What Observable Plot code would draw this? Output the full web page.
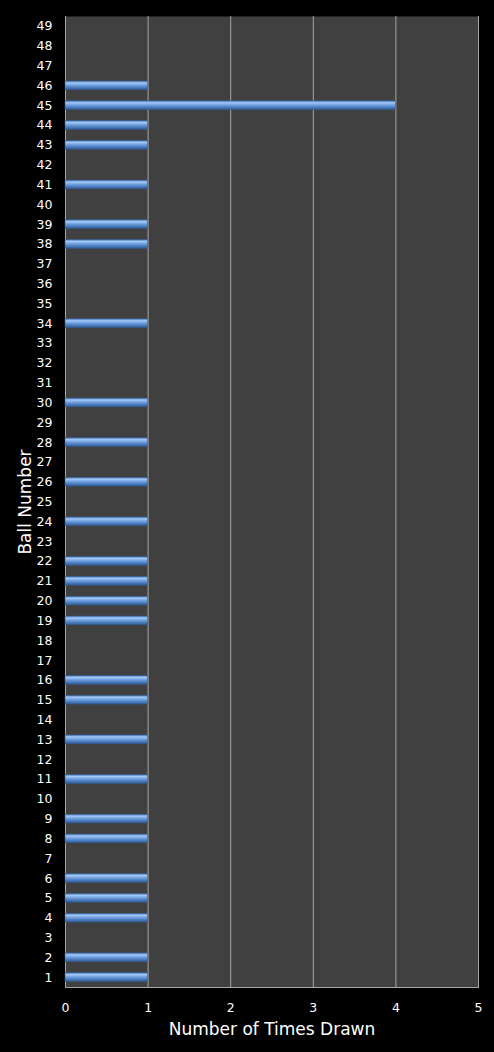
<!DOCTYPE html>
<html>
<head>
<meta charset="utf-8">
<script src="https://cdn.jsdelivr.net/npm/d3@7"></script>
<script src="https://cdn.jsdelivr.net/npm/@observablehq/plot@0.6"></script>
<style>
  html, body { margin: 0; padding: 0; background: #000; }
</style>
</head>
<body>
<div id="chart"></div>
<script>
const balls = [1,2,3,4,5,6,7,8,9,10,11,12,13,14,15,16,17,18,19,20,21,22,23,24,25,26,27,28,29,30,31,32,33,34,35,36,37,38,39,40,41,42,43,44,45,46,47,48,49];
const counts = [1,1,0,1,1,1,0,1,1,0,1,0,1,0,1,1,0,0,1,1,1,1,0,1,0,1,0,1,0,1,0,0,0,1,0,0,0,1,1,0,1,0,1,1,4,1,0,0,0];
const xTicks = [0,1,2,3,4,5];
const xTitle = "Number of Times Drawn";
const yTitle = "Ball Number";

const data = balls.map((b, i) => ({ball: b, count: counts[i]})).filter(d => d.count > 0);

const svg = Plot.plot({
  width: 494,
  height: 1052,
  marginLeft: 65,
  marginRight: 16,
  marginTop: 16,
  marginBottom: 65,
  style: {background: "#000", color: "#fff", fontFamily: "DejaVu Sans, Verdana, sans-serif", fontSize: "12.5px"},
  x: {domain: [0, 5], label: null},
  y: {domain: balls, reverse: true, paddingInner: 0.56, paddingOuter: 0.28, label: null},
  marks: [
    Plot.frame({fill: "#404040", stroke: null}),
    Plot.ruleX(xTicks.slice(1), {stroke: "#a6a6a6", strokeWidth: 1}),
    Plot.ruleX([0], {stroke: "#a6a6a6", strokeWidth: 1}),
    Plot.frame({anchor: "bottom", stroke: "#a6a6a6"}),
    Plot.barX(data, {x: "count", y: "ball", fill: "url(#barGrad)", stroke: "#35609c", strokeWidth: 0.5}),
    Plot.axisX({ticks: xTicks, tickFormat: "d", tickSize: 0, tickPadding: 16, fill: "#fff", fontSize: 12.5, label: null}),
    Plot.axisY({ticks: balls, tickSize: 0, tickPadding: 13, fill: "#fff", fontSize: 12.5, label: null}),
    Plot.text([xTitle], {frameAnchor: "bottom", dy: 47, fontSize: 17, fill: "#fff"}),
    Plot.text([yTitle], {frameAnchor: "left", textAnchor: "middle", dx: -40, rotate: -90, fontSize: 17, fill: "#fff"})
  ]
});

const defs = d3.select(svg).insert("defs", ":first-child");
const g = defs.append("linearGradient").attr("id", "barGrad").attr("x1", 0).attr("y1", 0).attr("x2", 0).attr("y2", 1);
g.append("stop").attr("offset", "0%").attr("stop-color", "#4a7cc0");
g.append("stop").attr("offset", "22%").attr("stop-color", "#a4c8f4");
g.append("stop").attr("offset", "50%").attr("stop-color", "#6c9ee0");
g.append("stop").attr("offset", "100%").attr("stop-color", "#2e5a98");

document.getElementById("chart").appendChild(svg);
</script>
</body>
</html>
